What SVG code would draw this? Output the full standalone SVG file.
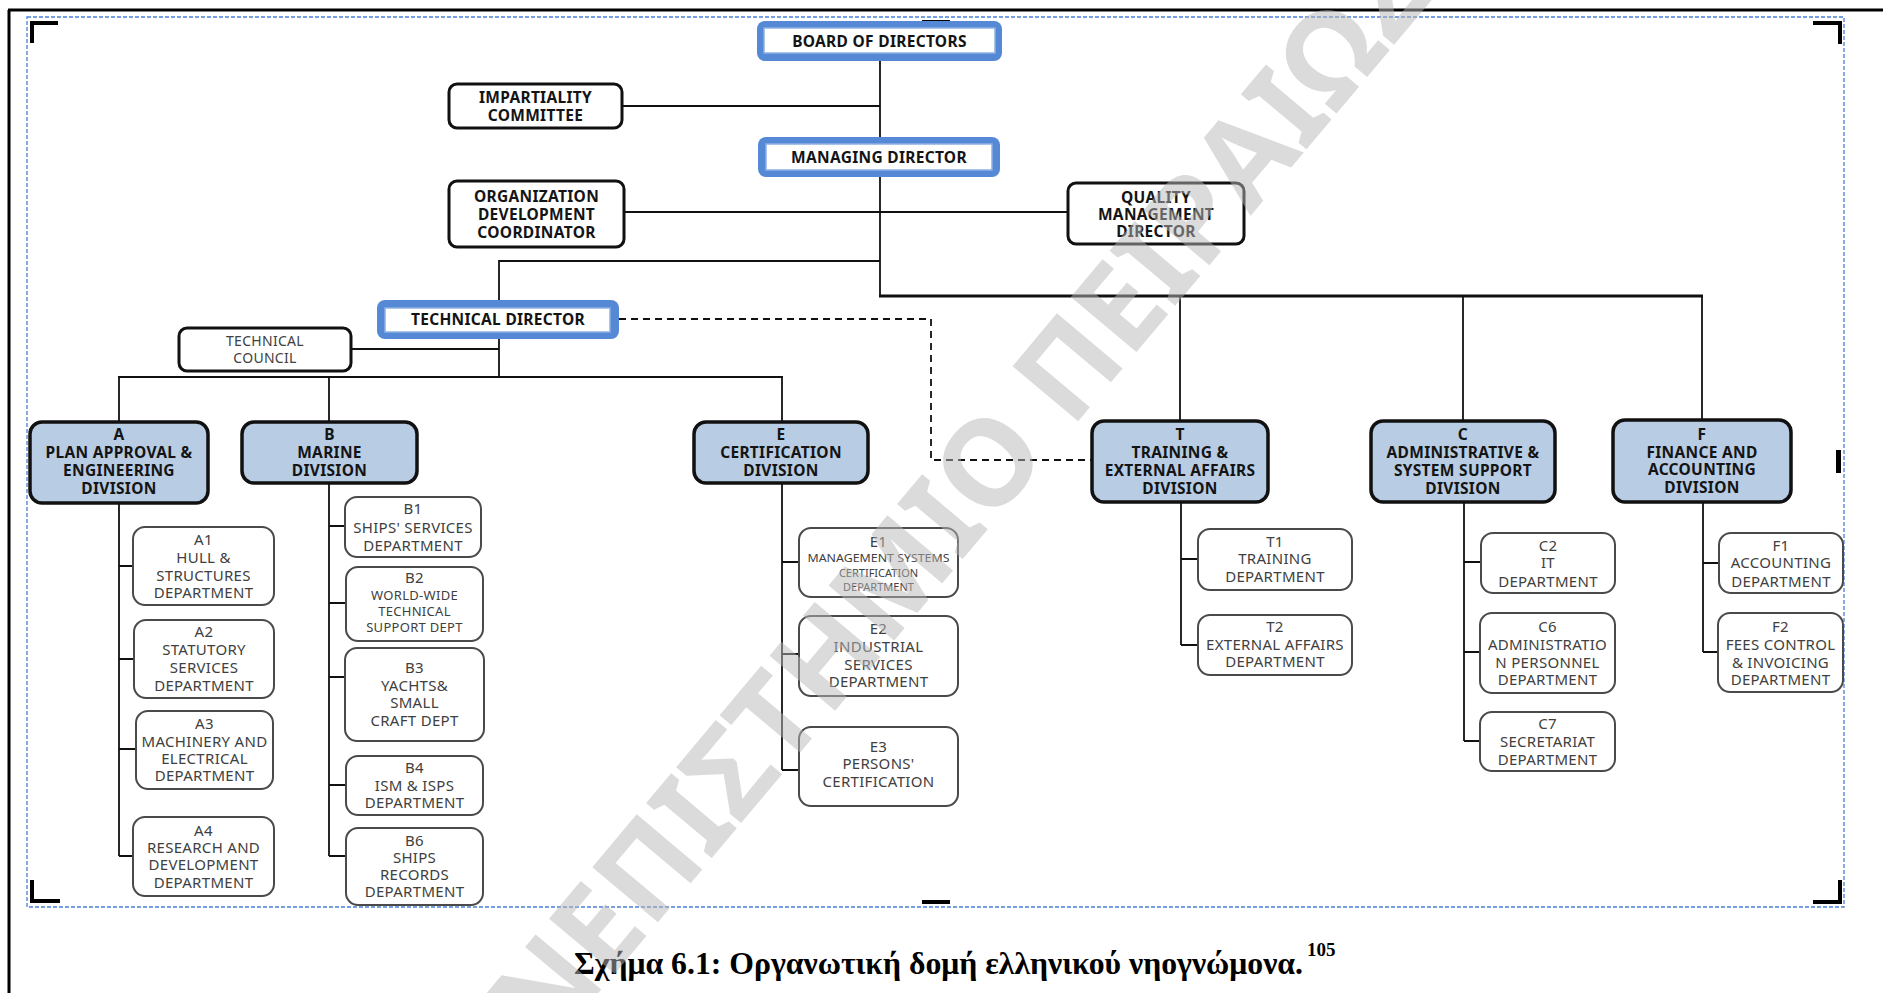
<svg xmlns="http://www.w3.org/2000/svg" width="1883" height="993" viewBox="0 0 1883 993">
<style>
.bo{fill:#5589d6}
.bi{fill:#fff;stroke:#8cb0e4;stroke-width:1.5}
.wb{fill:#fff;stroke:#111;stroke-width:3}
.dv{fill:#b8cce4;stroke:#111;stroke-width:3.5}
.sb{fill:#fff;stroke:#4a4a4a;stroke-width:2}
.tb{font-family:"Noto Sans","DejaVu Sans",sans-serif;font-weight:bold;font-size:15.5px;letter-spacing:0.3px;fill:#141414;text-anchor:middle}
.tr{font-family:"Noto Sans","DejaVu Sans",sans-serif;font-size:15px;letter-spacing:0.3px;fill:#404040;text-anchor:middle}
.ln{stroke:#111;stroke-width:1.8;fill:none}
.dash{stroke:#111;stroke-width:1.8;fill:none;stroke-dasharray:7,5}
.mk{fill:#000}
</style>
<rect x="0" y="0" width="1883" height="993" fill="#fff"/>
<g id="frame">
<line x1="8" y1="10" x2="1883" y2="10" stroke="#000" stroke-width="3"/>
<line x1="9" y1="10" x2="9" y2="993" stroke="#000" stroke-width="3"/>
<rect x="27" y="17" width="1817" height="890" fill="none" stroke="#4a7fd8" stroke-width="1.3" stroke-dasharray="4,2"/>
<path class="mk" d="M30,21h28v4h-24v18h-4z"/>
<path class="mk" d="M1842,21h-29v4h25v19h4z"/>
<path class="mk" d="M30,903h30v-4h-26v-19h-4z"/>
<path class="mk" d="M1842,904h-29v-4h25v-20h4z"/>
<rect class="mk" x="922" y="20" width="28" height="4"/>
<rect class="mk" x="922" y="900" width="28" height="4"/>
<rect class="mk" x="30" y="450" width="5" height="23"/>
<rect class="mk" x="1836" y="450" width="5" height="23"/>
</g>
<g id="connectors">
<line class="ln" x1="880" y1="61" x2="880" y2="137"/>
<line class="ln" x1="880" y1="177" x2="880" y2="296"/>
<line class="ln" x1="622" y1="106" x2="880" y2="106"/>
<line class="ln" x1="624" y1="212" x2="1068" y2="212"/>
<polyline class="ln" points="880,261 499,261 499,300"/>
<line x1="879" y1="296" x2="1703" y2="296" stroke="#111" stroke-width="2.8"/>
<line class="ln" x1="1180" y1="296" x2="1180" y2="421"/>
<line class="ln" x1="1463" y1="296" x2="1463" y2="421"/>
<line class="ln" x1="1702" y1="296" x2="1702" y2="420"/>
<line class="ln" x1="499" y1="339" x2="499" y2="377"/>
<line class="ln" x1="351" y1="349" x2="499" y2="349"/>
<line x1="118" y1="377" x2="783" y2="377" stroke="#111" stroke-width="2.2"/>
<line class="ln" x1="119" y1="377" x2="119" y2="422"/>
<line class="ln" x1="329" y1="377" x2="329" y2="422"/>
<line class="ln" x1="782" y1="377" x2="782" y2="422"/>
<polyline class="dash" points="619,319 931,319 931,460 1092,460"/>
<path class="ln" d="M119,503V856M119,566H133M119,659H134M119,749H136M119,856H133"/>
<path class="ln" d="M329,483V856M329,526H345M329,603H346M329,677H345M329,785H346M329,856H346"/>
<path class="ln" d="M782,483V770M782,562H799M782,654H799M782,770H799"/>
<path class="ln" d="M1181,502V645M1181,559H1198M1181,645H1198"/>
<path class="ln" d="M1464,502V741M1464,562H1481M1464,652H1480M1464,741H1480"/>
<path class="ln" d="M1703,502V652M1703,563H1719M1703,652H1718"/>
</g>
<g id="board">
<rect class="bo" x="757" y="21" width="245" height="40" rx="8"/>
<rect class="bi" x="764" y="28" width="231" height="25"/>
<text class="tb" x="879.5" y="46.5">BOARD OF DIRECTORS</text>
</g>
<g id="managing">
<rect class="bo" x="758" y="137" width="242" height="40" rx="8"/>
<rect class="bi" x="766" y="144" width="226" height="26"/>
<text class="tb" x="879" y="162.5">MANAGING DIRECTOR</text>
</g>
<g id="technical-director">
<rect class="bo" x="377" y="300" width="242" height="39" rx="8"/>
<rect class="bi" x="385" y="308" width="225" height="24"/>
<text class="tb" x="498" y="325">TECHNICAL DIRECTOR</text>
</g>
<g id="impartiality">
<rect class="wb" x="449" y="84" width="173" height="44" rx="8"/>
<text class="tb" x="535.5" y="103">IMPARTIALITY</text>
<text class="tb" x="535.5" y="121">COMMITTEE</text>
</g>
<g id="org-dev">
<rect class="wb" x="449" y="181" width="175" height="66" rx="8"/>
<text class="tb" x="536.5" y="202">ORGANIZATION</text>
<text class="tb" x="536.5" y="220">DEVELOPMENT</text>
<text class="tb" x="536.5" y="238">COORDINATOR</text>
</g>
<g id="quality">
<rect class="wb" x="1068" y="183" width="176" height="61" rx="8"/>
<text class="tb" x="1156" y="203">QUALITY</text>
<text class="tb" x="1156" y="220">MANAGEMENT</text>
<text class="tb" x="1156" y="237">DIRECTOR</text>
</g>
<g id="tech-council">
<rect class="wb" x="179" y="328" width="172" height="43" rx="8"/>
<text class="tr" x="265" y="346" style="font-size:14px">TECHNICAL</text>
<text class="tr" x="265" y="363" style="font-size:14px">COUNCIL</text>
</g>
<g id="div-a">
<rect class="dv" x="30" y="422" width="178" height="81" rx="12"/>
<text class="tb" x="119" y="440">A</text>
<text class="tb" x="119" y="458">PLAN APPROVAL &amp;</text>
<text class="tb" x="119" y="476">ENGINEERING</text>
<text class="tb" x="119" y="494">DIVISION</text>
</g>
<g id="div-b">
<rect class="dv" x="242" y="422" width="175" height="61" rx="12"/>
<text class="tb" x="329.5" y="440">B</text>
<text class="tb" x="329.5" y="458">MARINE</text>
<text class="tb" x="329.5" y="476">DIVISION</text>
</g>
<g id="div-e">
<rect class="dv" x="694" y="422" width="174" height="61" rx="12"/>
<text class="tb" x="781" y="440">E</text>
<text class="tb" x="781" y="458">CERTIFICATION</text>
<text class="tb" x="781" y="476">DIVISION</text>
</g>
<g id="div-t">
<rect class="dv" x="1092" y="421" width="176" height="81" rx="12"/>
<text class="tb" x="1180" y="440">T</text>
<text class="tb" x="1180" y="458">TRAINING &amp;</text>
<text class="tb" x="1180" y="476">EXTERNAL AFFAIRS</text>
<text class="tb" x="1180" y="494">DIVISION</text>
</g>
<g id="div-c">
<rect class="dv" x="1371" y="421" width="184" height="81" rx="12"/>
<text class="tb" x="1463" y="440">C</text>
<text class="tb" x="1463" y="458">ADMINISTRATIVE &amp;</text>
<text class="tb" x="1463" y="476">SYSTEM SUPPORT</text>
<text class="tb" x="1463" y="494">DIVISION</text>
</g>
<g id="div-f">
<rect class="dv" x="1613" y="420" width="178" height="82" rx="12"/>
<text class="tb" x="1702" y="440">F</text>
<text class="tb" x="1702" y="458">FINANCE AND</text>
<text class="tb" x="1702" y="475">ACCOUNTING</text>
<text class="tb" x="1702" y="493">DIVISION</text>
</g>
<g id="a1">
<rect class="sb" x="133" y="527" width="141" height="78" rx="12"/>
<text class="tr" x="203.5" y="545">A1</text>
<text class="tr" x="203.5" y="563">HULL &amp;</text>
<text class="tr" x="203.5" y="581">STRUCTURES</text>
<text class="tr" x="203.5" y="598">DEPARTMENT</text>
</g>
<g id="a2">
<rect class="sb" x="134" y="620" width="140" height="78" rx="12"/>
<text class="tr" x="204" y="637">A2</text>
<text class="tr" x="204" y="655">STATUTORY</text>
<text class="tr" x="204" y="673">SERVICES</text>
<text class="tr" x="204" y="691">DEPARTMENT</text>
</g>
<g id="a3">
<rect class="sb" x="136" y="711" width="137" height="78" rx="12"/>
<text class="tr" x="204.5" y="729">A3</text>
<text class="tr" x="204.5" y="747">MACHINERY AND</text>
<text class="tr" x="204.5" y="764">ELECTRICAL</text>
<text class="tr" x="204.5" y="781">DEPARTMENT</text>
</g>
<g id="a4">
<rect class="sb" x="133" y="817" width="141" height="79" rx="12"/>
<text class="tr" x="203.5" y="836">A4</text>
<text class="tr" x="203.5" y="853">RESEARCH AND</text>
<text class="tr" x="203.5" y="870">DEVELOPMENT</text>
<text class="tr" x="203.5" y="888">DEPARTMENT</text>
</g>
<g id="b1">
<rect class="sb" x="345" y="497" width="136" height="60" rx="12"/>
<text class="tr" x="413" y="514">B1</text>
<text class="tr" x="413" y="533">SHIPS' SERVICES</text>
<text class="tr" x="413" y="551">DEPARTMENT</text>
</g>
<g id="b2">
<rect class="sb" x="346" y="567" width="137" height="74" rx="12"/>
<text class="tr" x="414.5" y="583">B2</text>
<text class="tr" x="414.5" y="600" style="font-size:13px">WORLD-WIDE</text>
<text class="tr" x="414.5" y="616" style="font-size:13px">TECHNICAL</text>
<text class="tr" x="414.5" y="632" style="font-size:13px">SUPPORT DEPT</text>
</g>
<g id="b3">
<rect class="sb" x="345" y="648" width="139" height="93" rx="12"/>
<text class="tr" x="414.5" y="673">B3</text>
<text class="tr" x="414.5" y="691">YACHTS&amp;</text>
<text class="tr" x="414.5" y="708">SMALL</text>
<text class="tr" x="414.5" y="726">CRAFT DEPT</text>
</g>
<g id="b4">
<rect class="sb" x="346" y="756" width="137" height="59" rx="12"/>
<text class="tr" x="414.5" y="773">B4</text>
<text class="tr" x="414.5" y="791">ISM &amp; ISPS</text>
<text class="tr" x="414.5" y="808">DEPARTMENT</text>
</g>
<g id="b6">
<rect class="sb" x="346" y="828" width="137" height="77" rx="12"/>
<text class="tr" x="414.5" y="846">B6</text>
<text class="tr" x="414.5" y="863">SHIPS</text>
<text class="tr" x="414.5" y="880">RECORDS</text>
<text class="tr" x="414.5" y="897">DEPARTMENT</text>
</g>
<g id="e1">
<rect class="sb" x="799" y="528" width="159" height="69" rx="12"/>
<text class="tr" x="878.5" y="547">E1</text>
<text class="tr" x="878.5" y="562" style="font-size:10px;letter-spacing:0" textLength="142" lengthAdjust="spacingAndGlyphs">MANAGEMENT SYSTEMS</text>
<text class="tr" x="878.5" y="577" style="font-size:11px;letter-spacing:0">CERTIFICATION</text>
<text class="tr" x="878.5" y="591" style="font-size:11px;letter-spacing:0">DEPARTMENT</text>
</g>
<g id="e2">
<rect class="sb" x="799" y="616" width="159" height="80" rx="12"/>
<text class="tr" x="878.5" y="634">E2</text>
<text class="tr" x="878.5" y="652">INDUSTRIAL</text>
<text class="tr" x="878.5" y="670">SERVICES</text>
<text class="tr" x="878.5" y="687">DEPARTMENT</text>
</g>
<g id="e3">
<rect class="sb" x="799" y="727" width="159" height="79" rx="12"/>
<text class="tr" x="878.5" y="752">E3</text>
<text class="tr" x="878.5" y="769">PERSONS'</text>
<text class="tr" x="878.5" y="787">CERTIFICATION</text>
</g>
<g id="t1">
<rect class="sb" x="1198" y="529" width="154" height="61" rx="12"/>
<text class="tr" x="1275" y="547">T1</text>
<text class="tr" x="1275" y="564">TRAINING</text>
<text class="tr" x="1275" y="582">DEPARTMENT</text>
</g>
<g id="t2">
<rect class="sb" x="1198" y="615" width="154" height="60" rx="12"/>
<text class="tr" x="1275" y="632">T2</text>
<text class="tr" x="1275" y="650">EXTERNAL AFFAIRS</text>
<text class="tr" x="1275" y="667">DEPARTMENT</text>
</g>
<g id="c2">
<rect class="sb" x="1481" y="533" width="134" height="60" rx="12"/>
<text class="tr" x="1548" y="551">C2</text>
<text class="tr" x="1548" y="568">IT</text>
<text class="tr" x="1548" y="587">DEPARTMENT</text>
</g>
<g id="c6">
<rect class="sb" x="1480" y="613" width="135" height="80" rx="12"/>
<text class="tr" x="1547.5" y="632">C6</text>
<text class="tr" x="1547.5" y="650">ADMINISTRATIO</text>
<text class="tr" x="1547.5" y="668">N PERSONNEL</text>
<text class="tr" x="1547.5" y="685">DEPARTMENT</text>
</g>
<g id="c7">
<rect class="sb" x="1480" y="712" width="135" height="59" rx="12"/>
<text class="tr" x="1547.5" y="729">C7</text>
<text class="tr" x="1547.5" y="747">SECRETARIAT</text>
<text class="tr" x="1547.5" y="765">DEPARTMENT</text>
</g>
<g id="f1">
<rect class="sb" x="1719" y="533" width="124" height="60" rx="12"/>
<text class="tr" x="1781" y="551">F1</text>
<text class="tr" x="1781" y="568">ACCOUNTING</text>
<text class="tr" x="1781" y="587">DEPARTMENT</text>
</g>
<g id="f2">
<rect class="sb" x="1718" y="613" width="125" height="79" rx="12"/>
<text class="tr" x="1780.5" y="632">F2</text>
<text class="tr" x="1780.5" y="650">FEES CONTROL</text>
<text class="tr" x="1780.5" y="668">&amp; INVOICING</text>
<text class="tr" x="1780.5" y="685">DEPARTMENT</text>
</g>
<g id="caption" font-family="'Liberation Serif','Times New Roman',serif" font-weight="bold" fill="#000">
<text x="574" y="974" font-size="32" textLength="729" lengthAdjust="spacingAndGlyphs">Σχήμα 6.1: Οργανωτική δομή ελληνικού νηογνώμονα.</text>
<text x="1307" y="956" font-size="19">105</text>
</g>
<g id="watermark">
<text transform="translate(434,1189) rotate(-50)" x="0" y="0" font-family="'Noto Sans','DejaVu Sans',sans-serif" font-weight="bold" font-size="120" fill="#b8b8b8" fill-opacity="0.5">ΠΑΝΕΠΙΣΤΗΜΙΟ ΠΕΙΡΑΙΩΣ</text>
</g>
</svg>
